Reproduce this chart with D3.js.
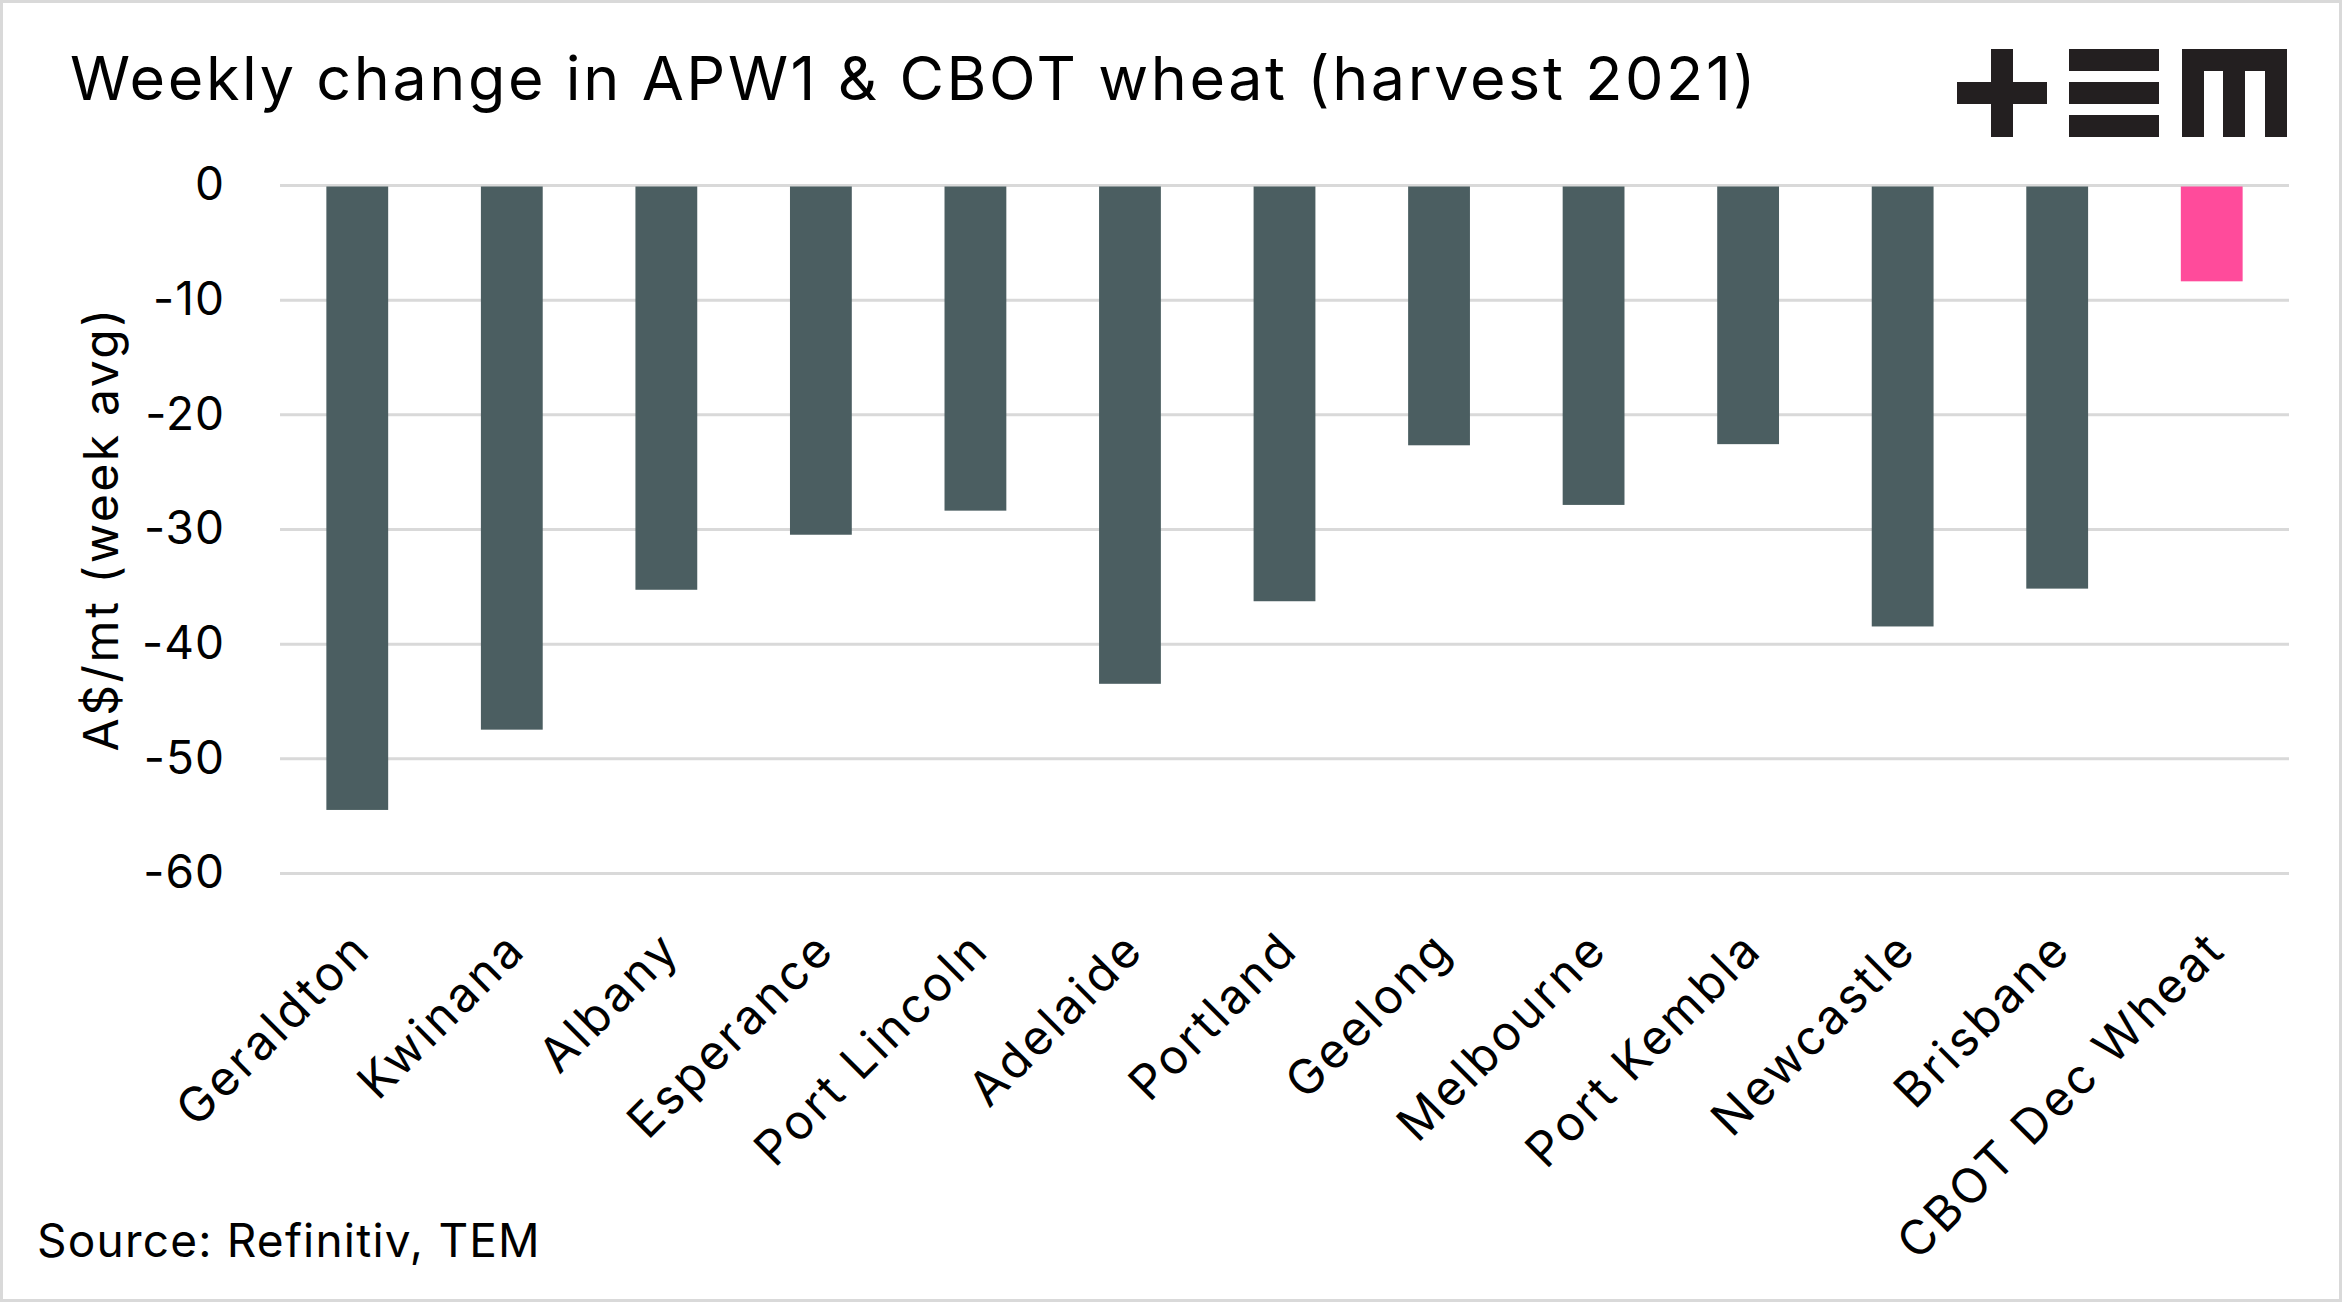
<!DOCTYPE html>
<html>
<head>
<meta charset="utf-8">
<script src="https://cdn.jsdelivr.net/npm/d3@7"></script>
<style>
	body { margin: 0; background: #fff; }
	svg { display: block; font-family: Inter, "Noto Sans", sans-serif; }
</style>
</head>
<body>
<svg id="chart" width="2342" height="1302"></svg>
<script>
// Data
var categories = [
	"Geraldton", "Kwinana", "Albany", "Esperance", "Port Lincoln", "Adelaide",
	"Portland", "Geelong", "Melbourne", "Port Kembla", "Newcastle", "Brisbane",
	"CBOT Dec Wheat",
];
var weeklyChange = [
	-54.5, -47.5, -35.3, -30.5, -28.4, -43.5,
	-36.3, -22.7, -27.9, -22.6, -38.5, -35.2,
	-8.4,
];
var yTicks = [0, -10, -20, -30, -40, -50, -60];

var title = "Weekly change in APW1 & CBOT wheat (harvest 2021)";
var yLabel = "A$/mt (week avg)";
var source = "Source: Refinitiv, TEM";

// Sizing Stuff
var svg = d3.select("#chart");
var width = +svg.attr("width");
var height = +svg.attr("height");
var plot = { left: 280, right: 2289, top: 185, bottom: 873 };

var barColor = "#4b5e61";
var highlightColor = "#ff4b9b";
var gridColor = "#d9d9d9";

var rows = categories.map((c, i) => ({ name: c, value: weeklyChange[i] }));

// frame
svg.append("rect")
	.attr("x", 1.5).attr("y", 1.5)
	.attr("width", width - 3).attr("height", height - 3)
	.attr("fill", "#fff")
	.attr("stroke", gridColor)
	.attr("stroke-width", 3);

var xscale = d3.scaleBand()
	.domain(categories)
	.range([plot.left, plot.right])
	.paddingInner(0.6)
	.paddingOuter(0.3);

var yscale = d3.scaleLinear()
	.domain([d3.min(yTicks), d3.max(yTicks)])
	.range([plot.bottom, plot.top]);

// y axis + gridlines
var yaxis = d3.axisLeft(yscale)
	.tickValues(yTicks)
	.tickSize(-(plot.right - plot.left))
	.tickPadding(55)
	.tickFormat(d3.format("d"));

var yaxisArea = svg.append("g")
	.attr("transform", `translate(${plot.left},0)`)
	.call(yaxis);
yaxisArea.select(".domain").remove();
yaxisArea.selectAll(".tick line")
	.attr("stroke", gridColor)
	.attr("stroke-width", 3);
yaxisArea.selectAll(".tick text")
	.attr("fill", "#000")
	.attr("font-size", 46)
	.attr("font-family", "Inter, sans-serif")
	.attr("letter-spacing", 1)
	.text((d) => (d < 0 ? "-" + Math.abs(d) : d));

// bars
svg.append("g")
	.selectAll("rect")
	.data(rows)
	.join("rect")
	.attr("x", (d) => xscale(d.name))
	.attr("y", yscale(0) + 1.5)
	.attr("width", xscale.bandwidth())
	.attr("height", (d) => yscale(d.value) - yscale(0) - 1.5)
	.attr("fill", (d) => (d.name === "CBOT Dec Wheat" ? highlightColor : barColor));

// category labels
svg.append("g")
	.selectAll("text")
	.data(categories)
	.join("text")
	.attr("transform", (d) =>
		`translate(${xscale(d) + xscale.bandwidth() / 2 + 16}, 952) rotate(-45)`)
	.attr("text-anchor", "end")
	.attr("font-size", 48)
	.attr("letter-spacing", 3)
	.attr("fill", "#000")
	.text((d) => d);

// y label
svg.append("text")
	.attr("transform", `translate(118, ${(plot.top + plot.bottom) / 2}) rotate(-90)`)
	.attr("text-anchor", "middle")
	.attr("font-size", 48)
	.attr("letter-spacing", 2.6)
	.attr("fill", "#000")
	.text(yLabel);

// title
svg.append("text")
	.attr("x", 70)
	.attr("y", 100)
	.attr("font-size", 61)
	.attr("letter-spacing", 2.6)
	.attr("fill", "#000")
	.text(title);

// source
svg.append("text")
	.attr("x", 37)
	.attr("y", 1257)
	.attr("font-size", 46)
	.attr("letter-spacing", 1.2)
	.attr("fill", "#000")
	.text(source);

// TEM logo
var logo = svg.append("g").attr("fill", "#231f20");
logo.append("rect").attr("x", 1957).attr("y", 82).attr("width", 90).attr("height", 22);
logo.append("rect").attr("x", 1991).attr("y", 49).attr("width", 22).attr("height", 88);
[49, 82, 115].forEach((y) => {
	logo.append("rect").attr("x", 2069).attr("y", y).attr("width", 90).attr("height", 22);
});
logo.append("rect").attr("x", 2182).attr("y", 49).attr("width", 105).attr("height", 22);
[2182, 2223, 2265].forEach((x) => {
	logo.append("rect").attr("x", x).attr("y", 49).attr("width", 22).attr("height", 88);
});
</script>
</body>
</html>
